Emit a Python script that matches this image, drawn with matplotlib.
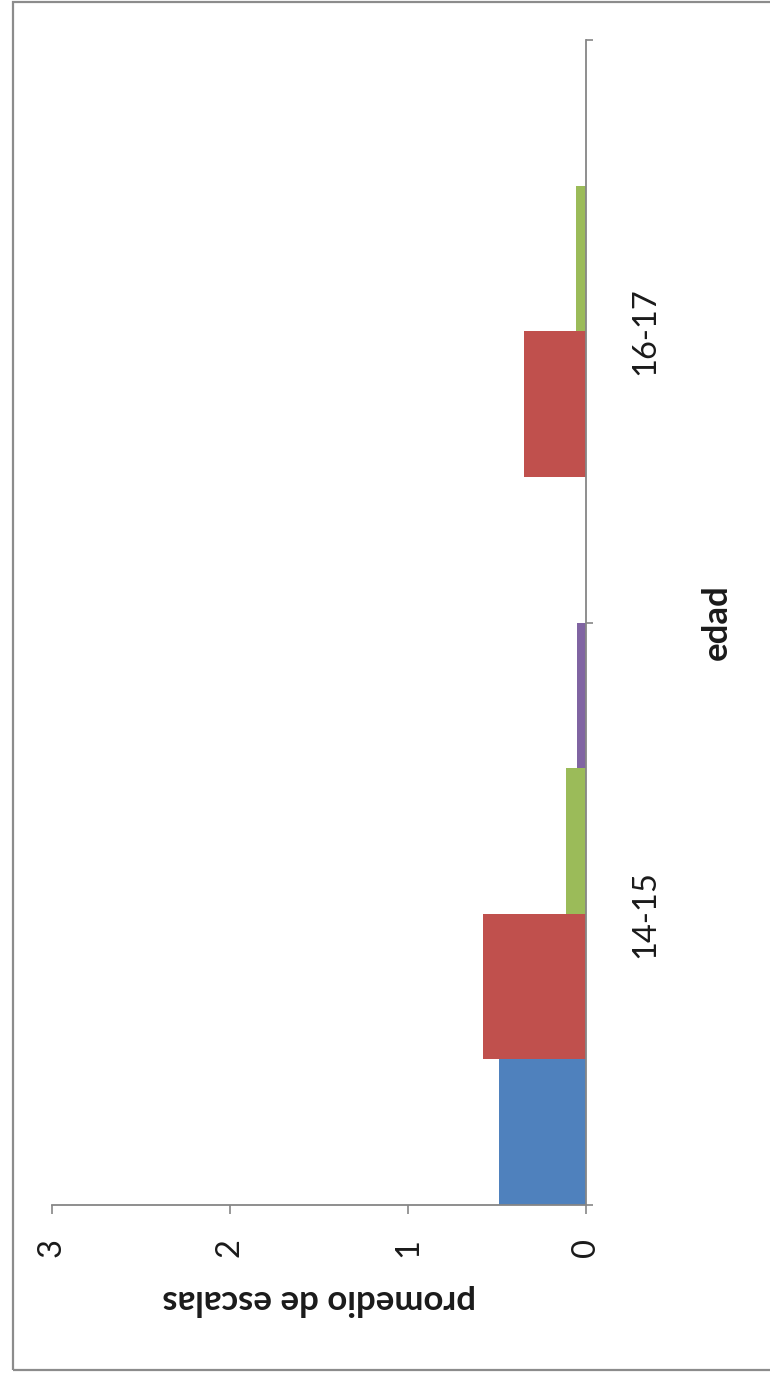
import matplotlib
matplotlib.use("Agg")
import matplotlib.pyplot as plt
from matplotlib.patches import Rectangle
import numpy as np

# ---- data ----
categories = ["14-15", "16-17"]
series_names = ["Serie 1", "Serie 2", "Serie 3", "Serie 4"]
serie1 = [0.49, 0.0]    # blue
serie2 = [0.58, 0.35]   # red
serie3 = [0.11, 0.056]  # green
serie4 = [0.05, 0.0]    # purple
value_ticks = [0, 1, 2, 3]
x_title = "promedio de escalas"
y_title = "edad"

colors = ["#4F81BD", "#C0504D", "#9BBB59", "#8064A2"]
all_series = [serie1, serie2, serie3, serie4]

plt.rcParams['font.family'] = ['Lato', 'DejaVu Sans']
W, H = 770, 1374
fig = plt.figure(figsize=(W / 100, H / 100), dpi=100)
fig.patch.set_facecolor("white")

# axes in pixel coordinates
left_px, right_px, top_px, bottom_px = 52, 586, 40, 1205
ax = fig.add_axes([left_px / W, (H - bottom_px) / H,
                   (right_px - left_px) / W, (bottom_px - top_px) / H])

pos = np.arange(len(categories))
n = len(all_series)
h = 1.0 / n
for i, (vals, c, name) in enumerate(zip(all_series, colors, series_names)):
    offs = -0.5 + h * (i + 0.5)
    ax.barh(pos + offs, vals, height=h, color=c, edgecolor="none", label=name)

ax.set_xlim(3, 0)
ax.set_ylim(-0.5, len(categories) - 0.5)

axis_col = "#868686"
for s in ["left", "top"]:
    ax.spines[s].set_visible(False)
for s in ["right", "bottom"]:
    ax.spines[s].set_color(axis_col)
    ax.spines[s].set_linewidth(1.3)

txt_col = "#1a1a1a"
fs = 23.5
fs_title = 25

# value axis
ax.set_xticks(value_ticks)
ax.set_xticklabels([str(v) for v in value_ticks], rotation=90, ha="center", va="center")
ax.tick_params(axis="x", direction="out", length=6.5, width=1.2, color=axis_col,
               pad=24, labelsize=fs, labelcolor=txt_col)

# category axis (right side)
ax.yaxis.tick_right()
ax.set_yticks(pos)
ax.set_yticklabels(categories, rotation=90, ha="center", va="center")
ax.tick_params(axis="y", which="major", length=0, pad=42.5, labelsize=fs,
               labelcolor=txt_col)
ax.set_yticks(np.arange(-0.5, len(categories)), minor=True)
ax.tick_params(axis="y", which="minor", direction="out", length=5, width=1.2,
               color=axis_col)

# axis titles
ax.set_xlabel(x_title, rotation=180, fontsize=fs_title, fontweight="bold", color=txt_col,
              ha="center", va="center")
ax.xaxis.set_label_coords(0.5, -(1300 - bottom_px) / (bottom_px - top_px))
ax.yaxis.set_label_position("right")
ax.set_ylabel(y_title, rotation=90, fontsize=fs_title, fontweight="bold", color=txt_col,
              ha="center", va="center")
ax.yaxis.set_label_coords((717 - left_px) / (right_px - left_px), 0.5)

# outer chart frame
frame = Rectangle((13 / W, (H - 1370) / H), 1.0, (1370 - 2) / H,
                  transform=fig.transFigure, fill=False, edgecolor="#8c8c8c",
                  linewidth=1.6, clip_on=False)
fig.patches.append(frame)

fig.savefig("out.png", dpi=100, facecolor="white")
